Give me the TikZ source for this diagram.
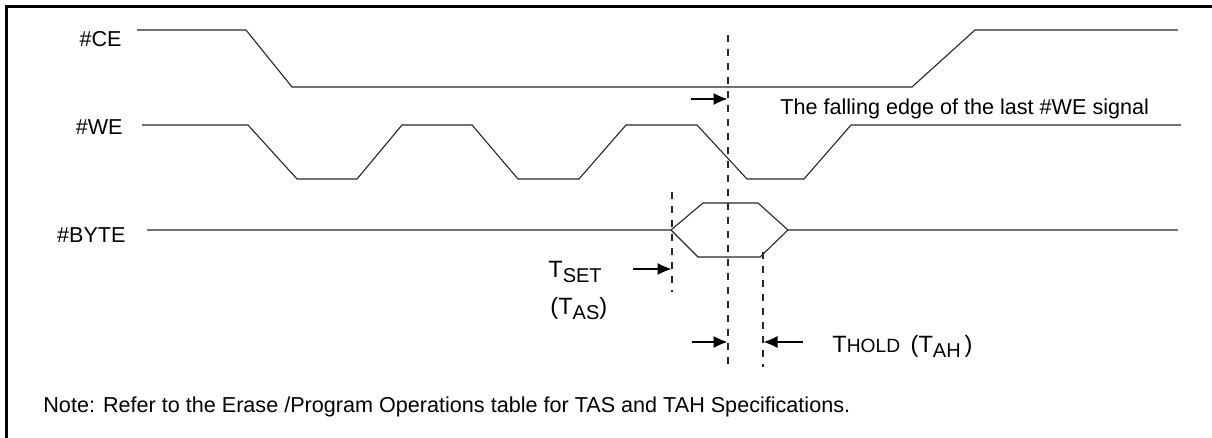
\documentclass[tikz,border=0pt]{standalone}
\usepackage{fontspec}
\setmainfont{Liberation Sans}
\usetikzlibrary{arrows.meta}
\tikzstyle{signalName}=[anchor = base east, inner sep = 0pt, font = \fontsize{10.8}{13}\selectfont]
\tikzstyle{plainText}=[anchor = base west, inner sep = 0pt, font = \fontsize{10.8}{13}\selectfont]
\tikzstyle{timeText}=[anchor = base west, inner sep = 0pt, font = \fontsize{11.8}{14}\selectfont]
\newcommand{\lowpart}[1]{\raisebox{-2.5pt}{\fontsize{10}{12}\selectfont #1}}
\newcommand{\smallpart}[1]{{\fontsize{9.6}{12}\selectfont #1}}

\begin{document}
\begin{tikzpicture}[x = 0.5pt, y = -0.5pt]
\tikzstyle{waveStyle}=[draw = black!85, line width = 0.55pt, line join = miter]
\tikzstyle{markStyle}=[draw = black!85, line width = 0.55pt, dash pattern = on 3.5pt off 3.5pt]
\tikzstyle{pointStyle}=[draw = black, line width = 0.55pt, -{Latex[length = 7pt, width = 6pt]}]
\useasboundingbox (0,0) rectangle (1212,438);
% frame
\draw[line width = 1.2pt] (6.5,438) -- (6.5,6.5) -- (1212,6.5);
% signal names
\node[signalName] (s0) at (122,47) {\#CE};
\node[signalName] (s1) at (123,135) {\#WE};
\node[signalName] (s2) at (126,243) {\#BYTE};
% waveforms
\draw[waveStyle] (137,30) -- (246,30) -- (292,87) -- (912,87) -- (975,30) -- (1178,30);
\draw[waveStyle] (142,125) -- (248,125) -- (297,179) -- (357,179) -- (402,125) -- (472,125)
  -- (518,179) -- (579,179) -- (626,125) -- (697,125) -- (747,179) -- (804,179)
  -- (851,125) -- (1181,125);
\draw[waveStyle] (147,230) -- (671,230) -- (703,203) -- (758,203) -- (788,230) -- (1178,230);
\draw[waveStyle] (671,230) -- (698,257) -- (760,257) -- (788,230);
% timing marks
\coordinate (m0) at (728,35);
\coordinate (m1) at (728,367);
\coordinate (m2) at (672,192);
\coordinate (m3) at (672,292);
\coordinate (m4) at (763,252);
\coordinate (m5) at (763,367);
\draw[markStyle] (m0) -- (m1);
\draw[markStyle] (m2) -- (m3);
\draw[markStyle] (m4) -- (m5);
% pointers
\coordinate (p0) at (691,99);
\coordinate (p1) at (727.5,99);
\coordinate (p2) at (633,269);
\coordinate (p3) at (671.5,269);
\coordinate (p4) at (692,342);
\coordinate (p5) at (727.5,342);
\coordinate (p6) at (803,342);
\coordinate (p7) at (763.5,342);
\draw[pointStyle] (p0) -- (p1);
\draw[pointStyle] (p2) -- (p3);
\draw[pointStyle] (p4) -- (p5);
\draw[pointStyle] (p6) -- (p7);
% texts
\node[plainText] (t0) at (780,115) {The falling edge of the last \#WE signal};
\node[timeText] (t1) at (548,278) {T\lowpart{SET}};
\node[timeText] (t2) at (550,315) {(T\lowpart{AS})};
\node[timeText] (t3) at (832,353) {T\smallpart{HOLD}\ \,(T\lowpart{AH}\,)};
\node[plainText] (t4) at (43,413) {Note: Refer to the Erase /Program Operations table for TAS and TAH Specifications.};
\end{tikzpicture}
\end{document}
